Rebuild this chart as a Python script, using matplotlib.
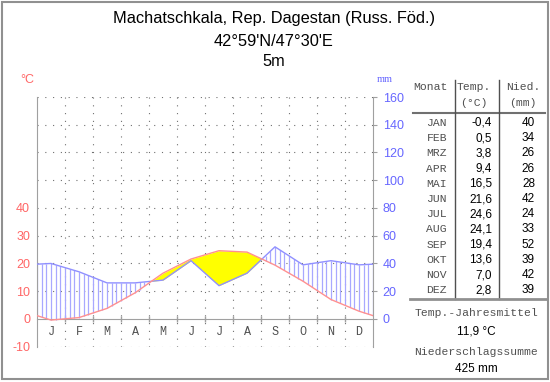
import numpy as np
import matplotlib
matplotlib.use("Agg")
from matplotlib import pyplot as plt
from matplotlib.lines import Line2D
from matplotlib.patches import Rectangle

title = "Machatschkala, Rep. Dagestan (Russ. Föd.)"
coords = "42°59'N/47°30'E"
height = "5m"

months = ["J", "F", "M", "A", "M", "J", "J", "A", "S", "O", "N", "D"]
month_names = ["JAN", "FEB", "MRZ", "APR", "MAI", "JUN",
               "JUL", "AUG", "SEP", "OKT", "NOV", "DEZ"]
temp = [-0.4, 0.5, 3.8, 9.4, 16.5, 21.6, 24.6, 24.1, 19.4, 13.6, 7.0, 2.8]
prec = [40, 34, 26, 26, 28, 42, 24, 33, 52, 39, 42, 39]

W, H = 550, 382
RED = "#ff6666"
BLUE = "#6666ff"
GRAY = "#a0a0a0"
SANS = "Liberation Sans"
MONO = "Liberation Mono"


def fx(x):
    return x / W


def fy(y):
    return 1 - y / H


fig = plt.figure(figsize=(5.5, 3.82), dpi=100)
fig.patch.set_facecolor("white")

# outer frame
fig.patches.append(Rectangle((fx(2), fy(379)), fx(546), 377 / H, transform=fig.transFigure,
                             fill=False, edgecolor="#909090", linewidth=1.5))

# headline
for txt, y in [(title, 18), (coords, 42), (height, 62)]:
    fig.text(fx(274), fy(y), txt, ha="center", va="center", fontsize=11.8, family=SANS)

ax = fig.add_axes([fx(37), fy(346.7), fx(336), (346.7 - 97) / H])
ax.set_xlim(0, 12)
ax.set_ylim(-10, 80)

# monthly values at month centres, closed over the year boundary
mx = np.arange(12) + 0.5
t = np.array(temp)
p = np.array(prec) / 2.0
xe = np.concatenate([[0], mx, [12]])
te = np.concatenate([[(t[0] + t[-1]) / 2], t, [(t[0] + t[-1]) / 2]])
pe = np.concatenate([[(p[0] + p[-1]) / 2], p, [(p[0] + p[-1]) / 2]])

# grid
dots = dict(color="#707070", linewidth=0.8, linestyle=(0, (1, 6)))
for lvl in [-10, 10, 20, 30, 40, 50, 60, 70, 80]:
    ax.axhline(lvl, **dots, zorder=1)
for m in range(1, 12):
    ax.axvline(m, **dots, zorder=1)

# humid hatching
xs = np.linspace(0, 12, 1201)
ts = np.interp(xs, xe, te)
ps = np.interp(xs, xe, pe)
xh = np.arange(0, 12.001, 1 / 6)
th = np.interp(xh, xe, te)
ph = np.interp(xh, xe, pe)
wet = ph > th
ax.vlines(xh[wet], th[wet], ph[wet], color="#a8a8ff", linewidth=0.9, zorder=2)

# arid area
ax.fill_between(xs, ps, ts, where=ts > ps, interpolate=True, color="#ffff00",
                linewidth=0, zorder=2)

ax.plot(xe, pe, color="#9090ff", linewidth=1.0, zorder=3)
ax.plot(xe, te, color="#ff9090", linewidth=1.0, zorder=4)

# axes styling
for side in ["top", "right"]:
    ax.spines[side].set_visible(False)
ax.spines["left"].set_color(GRAY)
ax.spines["bottom"].set_color(GRAY)
ax.spines["bottom"].set_position(("data", 0))
ax.set_xticks(range(1, 12))
ax.set_xticklabels([])
ax.tick_params(axis="x", direction="inout", length=5, color=GRAY, width=1)
ax.set_yticks([-10, 0, 10, 20, 30, 40])
ax.set_yticklabels([str(v) for v in [-10, 0, 10, 20, 30, 40]])
ax.tick_params(axis="y", length=0, pad=5, labelcolor=RED, labelsize=9)
for lab in ax.get_yticklabels():
    lab.set_family(SANS)

for m, name in zip(mx, months):
    ax.text(m, -4.8, name, ha="center", va="center", fontsize=8.5, family=MONO,
            color="#505050")

ax2 = ax.twinx()
ax2.set_ylim(-20, 160)
for side in ["top", "left", "bottom"]:
    ax2.spines[side].set_visible(False)
ax2.spines["right"].set_color(GRAY)
ax2.set_yticks(range(0, 161, 20))
ax2.tick_params(axis="y", direction="out", length=3, color=GRAY, pad=4,
                labelcolor=BLUE, labelsize=9)
for lab in ax2.get_yticklabels():
    lab.set_family(SANS)

fig.text(fx(27), fy(80), "°C", ha="center", va="center", color=RED, fontsize=9, family=SANS)
fig.text(fx(385), fy(80), "mm", ha="center", va="center", color=BLUE, fontsize=7.5,
         family="Liberation Serif")

# table
hdr = dict(ha="center", va="center", fontsize=8.2, family=MONO, color="#505050")
fig.text(fx(430), fy(87), "Monat", **hdr)
fig.text(fx(474), fy(87), "Temp.", **hdr)
fig.text(fx(474), fy(103), "(°C)", **hdr)
fig.text(fx(523), fy(87), "Nied.", **hdr)
fig.text(fx(523), fy(103), "(mm)", **hdr)

for i, (name, tv, pv) in enumerate(zip(month_names, temp, prec)):
    y = 123 + i * 15.2
    fig.text(fx(447), fy(y), name, ha="right", va="center", fontsize=8.2, family=MONO,
             color="#505050")
    fig.text(fx(492), fy(y), f"{tv:.1f}".replace(".", ","), ha="right", va="center",
             fontsize=8.5, family=SANS)
    fig.text(fx(535), fy(y), str(pv), ha="right", va="center", fontsize=8.5, family=SANS)

fig.add_artist(Line2D([fx(413), fx(545)], [fy(113), fy(113)], color="#707070", linewidth=1.5))
fig.add_artist(Line2D([fx(455), fx(455)], [fy(80), fy(299)], color="#505050", linewidth=1))
fig.add_artist(Line2D([fx(499), fx(499)], [fy(80), fy(299)], color="#505050", linewidth=1))
fig.add_artist(Line2D([fx(410), fx(547)], [fy(299), fy(299)], color="#909090", linewidth=2))

mean_t = round(sum(temp) / len(temp), 1)
sum_p = sum(prec)
fig.text(fx(476), fy(313), "Temp.-Jahresmittel", **hdr)
fig.text(fx(476), fy(332), f"{mean_t:.1f} °C".replace(".", ","), ha="center", va="center",
         fontsize=8.5, family=SANS)
fig.text(fx(476), fy(352), "Niederschlagssumme", **hdr)
fig.text(fx(476), fy(369), f"{sum_p} mm", ha="center", va="center", fontsize=8.5, family=SANS)

fig.savefig("out.png", dpi=100)
